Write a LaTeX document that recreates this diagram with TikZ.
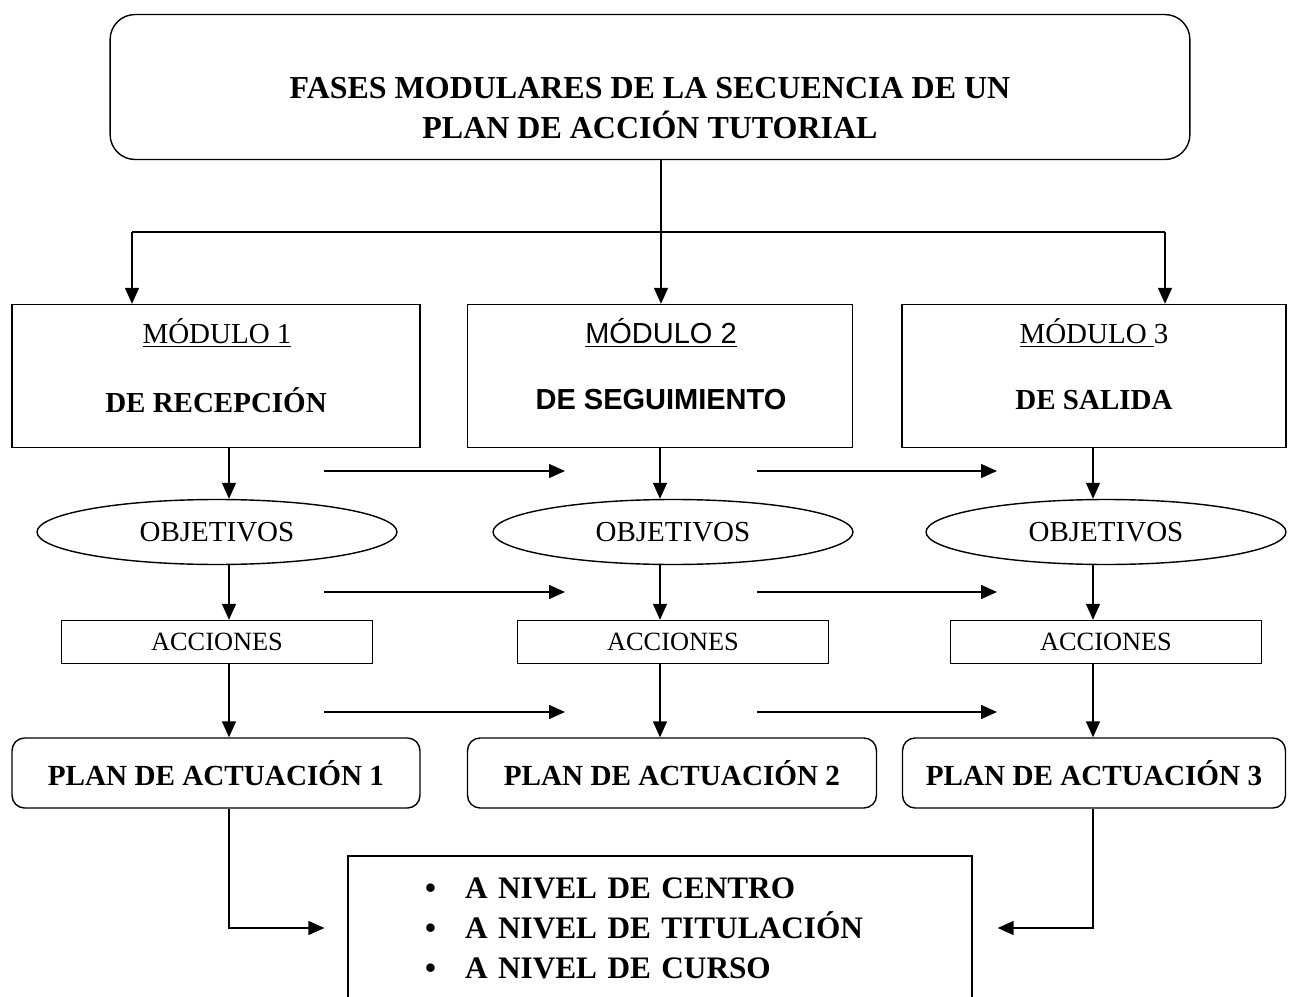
\documentclass[tikz,border=0pt]{standalone}
\usepackage{fontspec}
\setmainfont{Liberation Serif}
\newfontfamily\arialfont{Liberation Sans}
\usetikzlibrary{arrows.meta,shapes.geometric}
\newcommand{\nivel}[1]{\makebox[0.8cm][l]{\textbullet}#1}

\begin{document}
\begin{tikzpicture}[x=0.02cm,y=-0.02cm,line width=0.8pt,
        arr/.style={-{Triangle[length=0.32cm,width=0.28cm]}},
        modbox/.style={draw,minimum height=2.86cm},
        planbox/.style={draw,rounded corners=0.25cm,minimum height=1.4cm,font=\bfseries\fontsize{16.6}{20}\selectfont},
        obj/.style={draw,ellipse,minimum width=7.2cm,minimum height=1.3cm,inner sep=0pt,font=\fontsize{16.5}{20}\selectfont},
        acc/.style={draw,minimum width=6.22cm,minimum height=0.86cm,inner sep=0pt,font=\fontsize{15}{18}\selectfont},
        big/.style={font=\fontsize{16.5}{20}\selectfont}]
    \useasboundingbox (0,0) rectangle (1299,997);

    % cabecera
    \node[draw,rounded corners=0.5cm,minimum width=21.6cm,minimum height=2.9cm] (title) at (650,87) {};
    \node[align=center,font=\bfseries\fontsize{18.2}{22.8}\selectfont] (titletxt) at (650,108)
        {FASES MODULARES DE LA SECUENCIA DE UN\\PLAN DE ACCIÓN TUTORIAL};

    % modulos
    \node[modbox,minimum width=8.16cm] (m1) at (216,376) {};
    \node[modbox,minimum width=7.7cm] (m2) at (660,376) {};
    \node[modbox,minimum width=7.68cm] (m3) at (1094,376) {};
    \node[big] (m1a) at (217,333) {\underline{MÓDULO 1}};
    \node[big,font=\bfseries\fontsize{16.5}{20}\selectfont] (m1b) at (216,400) {DE RECEPCIÓN};
    \node[big,font=\arialfont\fontsize{16.5}{20}\selectfont] (m2a) at (661,333) {\underline{MÓDULO 2}};
    \node[font=\arialfont\bfseries\fontsize{16.5}{20}\selectfont] (m2b) at (661,400) {DE SEGUIMIENTO};
    \node[big] (m3a) at (1094,333) {\underline{MÓDULO\ }3};
    \node[font=\bfseries\fontsize{16.5}{20}\selectfont] (m3b) at (1094,400) {DE SALIDA};

    \foreach \i/\x in {1/217,2/673,3/1106} {
        \node[obj] (o\i) at (\x,532) {OBJETIVOS};
        \node[acc] (a\i) at (\x,642) {ACCIONES};
    }

    \node[planbox,minimum width=8.16cm] (p1) at (216,773) {PLAN DE ACTUACIÓN 1};
    \node[planbox,minimum width=8.18cm] (p2) at (672,773) {PLAN DE ACTUACIÓN 2};
    \node[planbox,minimum width=7.66cm] (p3) at (1094,773) {PLAN DE ACTUACIÓN 3};

    \node[draw,minimum width=12.48cm,minimum height=2.88cm,text width=9.4cm,align=left,
        font=\bfseries\fontsize{17.8}{22.8}\selectfont] (lst) at (660,928)
        {\nivel{A NIVEL DE CENTRO}\\\nivel{A NIVEL DE TITULACIÓN}\\\nivel{A NIVEL DE CURSO}};

    % conexiones
    \coordinate (k1) at (132,232);
    \coordinate (k2) at (661,232);
    \coordinate (k3) at (1165,232);
    \draw (title.south -| k2) -- (k2);
    \draw (k1) -- (k3);
    \foreach \i in {1,2,3}
        \draw[arr] (k\i) -- (k\i |- m\i.north);

    \foreach \i/\c in {1/229,2/660,3/1093} {
        \coordinate (c\i) at (\c,0);
        \draw[arr] (m\i.south -| c\i) -- (o\i.north -| c\i);
        \draw[arr] (o\i.south -| c\i) -- (a\i.north -| c\i);
        \draw[arr] (a\i.south -| c\i) -- (p\i.north -| c\i);
    }

    \foreach \y [count=\j] in {471,592,712} {
        \coordinate (ha\j) at (324,\y);
        \coordinate (hb\j) at (565,\y);
        \coordinate (hc\j) at (757,\y);
        \coordinate (hd\j) at (997,\y);
        \draw[arr] (ha\j) -- (hb\j);
        \draw[arr] (hc\j) -- (hd\j);
    }

    \draw[arr,shorten >=0.46cm] (p1.south -| c1) |- (lst.west);
    \draw[arr,shorten >=0.5cm] (p3.south -| c3) |- (lst.east);
\end{tikzpicture}
\end{document}
